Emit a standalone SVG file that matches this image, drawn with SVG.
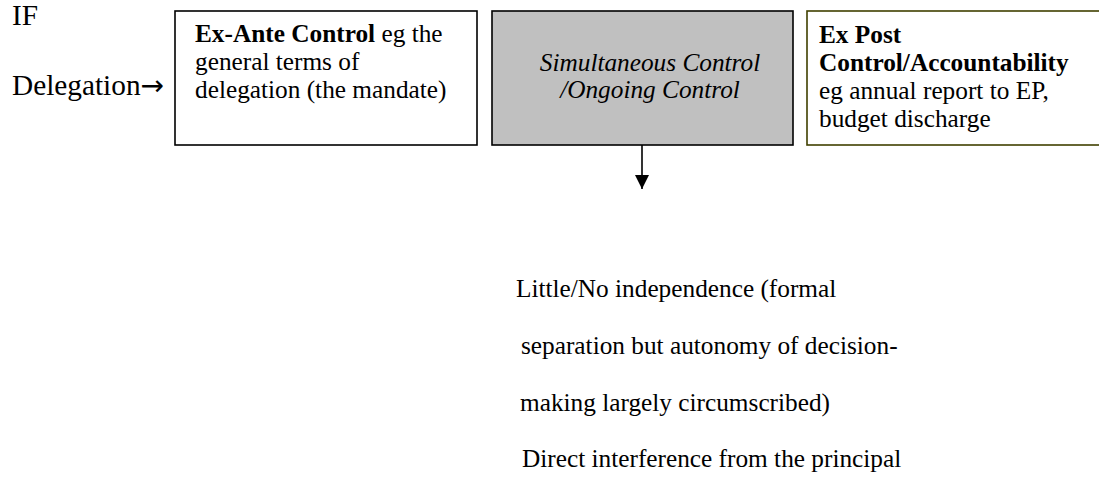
<svg xmlns="http://www.w3.org/2000/svg" width="1099" height="477" viewBox="0 0 1099 477">
<defs>
<style>
text{font-family:"Liberation Serif","Times New Roman",serif;fill:#000}
.lbl{font-size:29.3px}
.t{font-size:25.3px}
.b{font-weight:bold}
.i{font-style:italic}
.arr{font-family:"DejaVu Sans",sans-serif;font-size:28px}
.box{stroke:#000;stroke-width:1.6;fill:#fff}
</style>
<marker id="ah" markerWidth="14" markerHeight="14" refX="14" refY="7" orient="auto" markerUnits="userSpaceOnUse">
<path d="M0,0 L14,7 L0,14 Z" fill="#000"/>
</marker>
</defs>
<rect width="1099" height="477" fill="#fff"/>
<g id="label-if">
<text class="lbl" x="12" y="25">IF</text>
<text class="lbl" x="12" y="95">Delegation<tspan class="arr">→</tspan></text>
</g>
<g id="node-exante">
<rect class="box" x="175" y="11" width="302" height="134"/>
<text class="t" x="195" y="42"><tspan class="b">Ex-Ante Control</tspan> eg the</text>
<text class="t" x="195" y="70">general terms of</text>
<text class="t" x="195" y="98">delegation (the mandate)</text>
</g>
<g id="node-simultaneous">
<rect x="492" y="11" width="301" height="134" fill="#c0c0c0" stroke="#000" stroke-width="1.6"/>
<text class="t i" x="650" y="71" text-anchor="middle">Simultaneous Control</text>
<text class="t i" x="650" y="98" text-anchor="middle">/Ongoing Control</text>
</g>
<g id="node-expost">
<rect x="807" y="11" width="300" height="134" fill="#fff" stroke="#404000" stroke-width="1.6"/>
<text class="t b" x="819" y="43">Ex Post</text>
<text class="t b" x="819" y="71">Control/Accountability</text>
<text class="t" x="819" y="99">eg annual report to EP,</text>
<text class="t" x="819" y="127">budget discharge</text>
</g>
<g id="connectors">
<line x1="642" y1="145" x2="642" y2="189" stroke="#000" stroke-width="1.6" marker-end="url(#ah)"/>
</g>
<g id="node-outcome">
<text class="t" x="516" y="297">Little/No independence (formal</text>
<text class="t" x="521" y="354">separation but autonomy of decision-</text>
<text class="t" x="520" y="411">making largely circumscribed)</text>
<text class="t" x="522" y="467">Direct interference from the principal</text>
</g>
</svg>
